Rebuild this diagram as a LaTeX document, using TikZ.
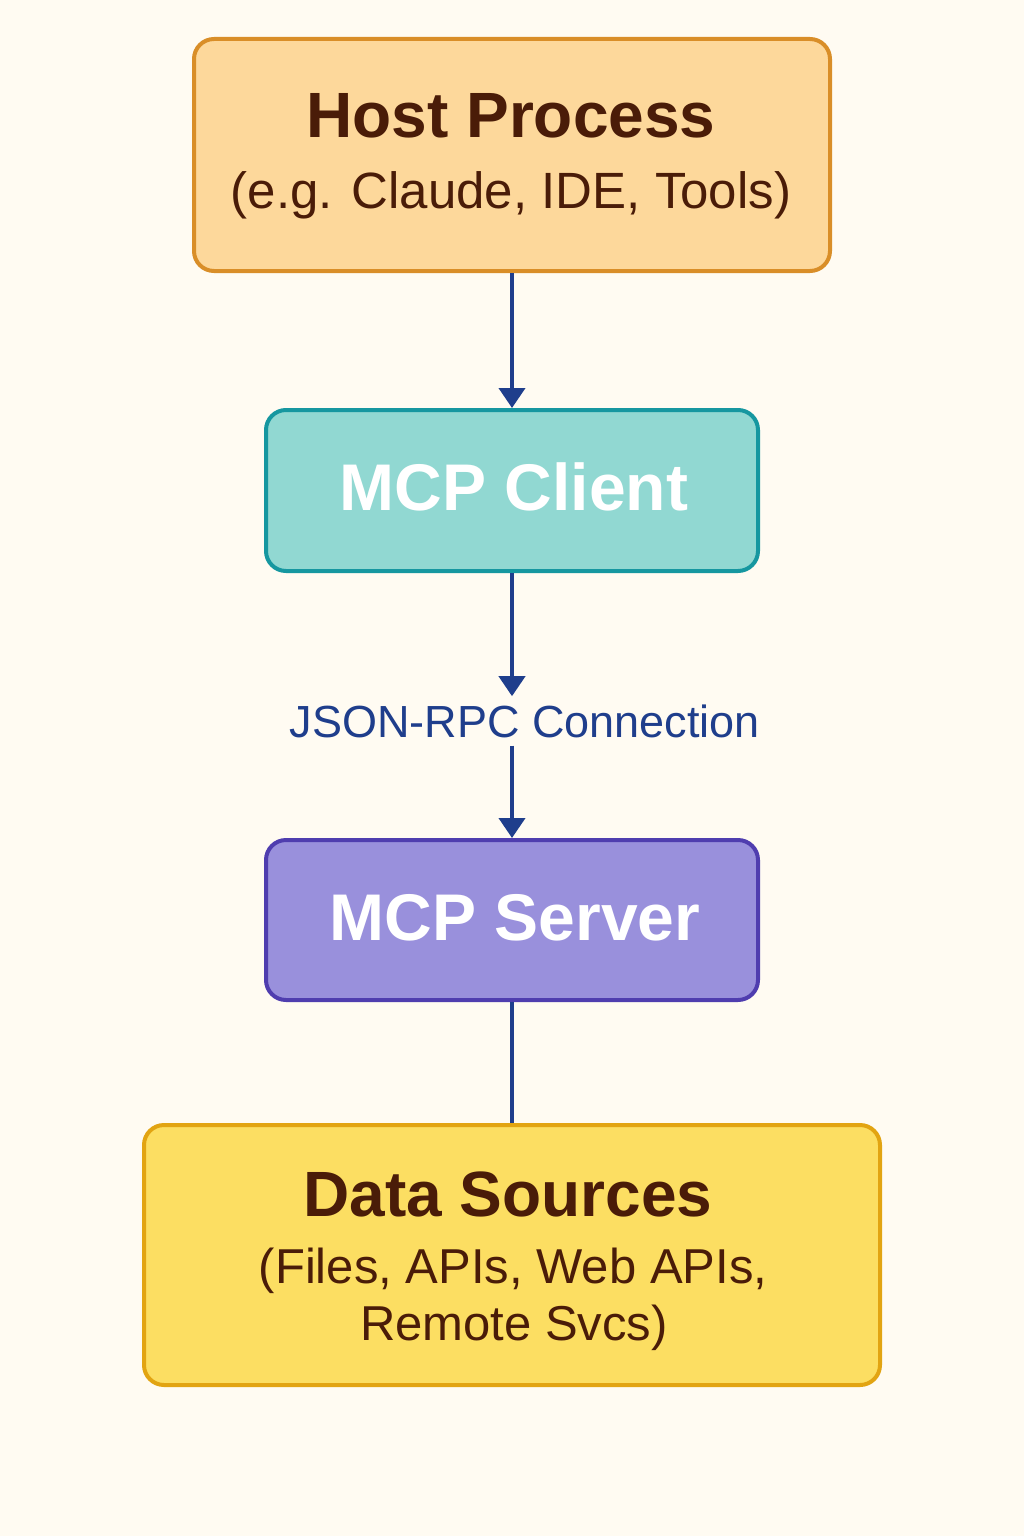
\documentclass[tikz,border=0pt]{standalone}
\usepackage{fontspec}
\setmainfont{Liberation Sans}
\usetikzlibrary{arrows.meta}

\definecolor{bgcream}{HTML}{FFFBF2}
\definecolor{hostfill}{HTML}{FDD89B}
\definecolor{hostline}{HTML}{D98E28}
\definecolor{clientfill}{HTML}{91D8D2}
\definecolor{clientline}{HTML}{1697A0}
\definecolor{serverfill}{HTML}{9990DC}
\definecolor{serverline}{HTML}{4F3DAF}
\definecolor{datafill}{HTML}{FCDE62}
\definecolor{dataline}{HTML}{E2A412}
\definecolor{brown}{HTML}{4A1C08}
\definecolor{navy}{HTML}{1F3E8C}

\begin{document}
\begin{tikzpicture}[x=1pt,y=-1pt,>={Triangle[width=26pt,length=20pt]}]

    \tikzset{
        box/.style={draw,rounded corners=20pt,line width=4pt,inner sep=0pt},
        link/.style={navy,line width=4pt},
        title/.style={anchor=base,font=\fontsize{64}{64}\selectfont\bfseries},
        sub/.style={anchor=base,brown,font=\fontsize{49}{49}\selectfont}
    }

    % background
    \fill[bgcream] (0,0) rectangle (1024,1536);
    \useasboundingbox (0,0) rectangle (1024,1536);

    % boxes
    \node[box,fill=hostfill,draw=hostline,minimum width=636pt,minimum height=232pt] (host) at (512,155) {};
    \node[box,fill=clientfill,draw=clientline,minimum width=492pt,minimum height=161pt] (client) at (512,490.5) {};
    \node[box,fill=serverfill,draw=serverline,minimum width=492pt,minimum height=160pt] (server) at (512,920) {};
    \node[box,fill=datafill,draw=dataline,minimum width=736pt,minimum height=260pt] (data) at (512,1255) {};

    % texts
    \node[title,brown] (hosttitle) at (511,138) {Host Process};
    \node[sub,font=\fontsize{51}{51}\selectfont] (hostsub) at (511,208) {(e.g. Claude, IDE, Tools)};
    \node[title,white,font=\fontsize{66}{66}\selectfont\bfseries] (clienttitle) at (514,510) {MCP Client};
    \node[title,white,font=\fontsize{66}{66}\selectfont\bfseries] (servertitle) at (515,940) {MCP Server};
    \node[title,brown] (datatitle) at (508,1216) {Data Sources};
    \node[sub] (datasub1) at (513,1283) {(Files, APIs, Web APIs,};
    \node[sub] (datasub2) at (514,1340) {Remote Svcs)};

    % label on the link
    \node[anchor=base,navy,font=\fontsize{45}{45}\selectfont,inner sep=8pt] (rpc) at (525,737) {JSON-RPC Connection};

    % links
    \draw[link,->] (host) -- (client);
    \draw[link,->] (client) -- (client.south |- rpc.north);
    \draw[link,->] (client.south |- rpc.south) -- (server);
    \draw[link] (server) -- (data);

\end{tikzpicture}
\end{document}
